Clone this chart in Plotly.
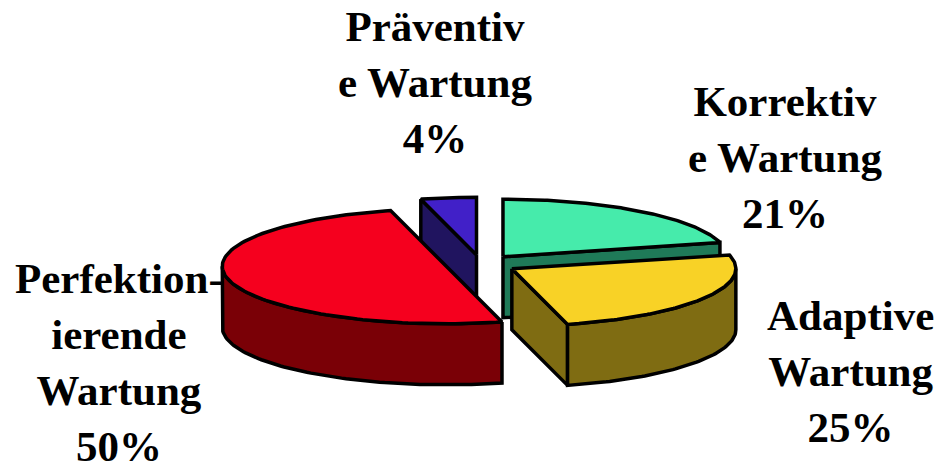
import numpy as np
import plotly.graph_objects as go

# Shares of maintenance effort, clockwise from twelve o'clock
names = ["Korrektiv<br>e Wartung", "Adaptive<br>Wartung", "Perfektion-<br>ierende<br>Wartung", "Präventiv<br>e Wartung"]
values = [21, 25, 50, 4]
top_colors = ["#46EBAB", "#F8D226", "#F5001E", "#4120C8"]
wall_colors = ["#1F7A58", "#7F6C12", "#7A0006", "#20145F"]
label_x = [785, 850, 119, 435]
label_y = [157, 371, 362, 82]

# Projection of the tilted pie onto the page, in page pixels
CX, CY = 481.0, 264.0
RX, RY = 224.0, 57.5
DEPTH = 61.0
EXPLODE = 0.16
LINE = 3.5


def project(theta, r, ox, oy, drop=0.0):
    return (ox + RX * r * np.sin(theta), oy - RY * r * np.cos(theta) + drop)


def add_poly(fig, xs, ys, color):
    fig.add_trace(go.Scatter(
        x=list(xs) + [xs[0]], y=list(ys) + [ys[0]], mode="lines", fill="toself",
        fillcolor=color, line=dict(color="black", width=LINE), hoverinfo="skip", showlegend=False,
    ))


fig = go.Figure()

angles = np.concatenate([[0], np.cumsum(values)]) / sum(values) * 2 * np.pi
slices = [(i, angles[i], angles[i + 1]) for i in range(len(values))]

# Painter's order: back slices first, the large front slice last
for i, a, b in [slices[3], slices[0], slices[1], slices[2]]:
    mid = (a + b) / 2
    ox, oy = project(mid, EXPLODE, CX, CY)

    # Radial cut faces that turn towards the viewer
    for edge, visible in ((a, np.sin(a) < -1e-9), (b, np.sin(b) > 1e-9)):
        if visible:
            ex, ey = project(edge, 1, ox, oy)
            add_poly(fig, [ox, ex, ex, ox], [oy, ey, ey + DEPTH, oy + DEPTH], wall_colors[i])

    # Outer rim on the near half of the ellipse
    lo, hi = max(a, np.pi / 2), min(b, 3 * np.pi / 2)
    if lo < hi:
        t = np.linspace(lo, hi, 80)
        rx, ry = project(t, 1, ox, oy)
        add_poly(fig, np.r_[rx, rx[::-1]], np.r_[ry, ry[::-1] + DEPTH], wall_colors[i])

    # Top face
    t = np.linspace(a, b, 120)
    tx, ty = project(t, 1, ox, oy)
    add_poly(fig, np.r_[ox, tx], np.r_[oy, ty], top_colors[i])

    fig.add_annotation(
        x=label_x[i], y=label_y[i], text=f"{names[i]}<br>{values[i]}%", showarrow=False,
        xanchor="center", yanchor="middle", align="center",
        font=dict(family="Liberation Serif", size=43, color="black", weight="bold"),
    )

fig.update_layout(
    width=940, height=464, margin=dict(l=0, r=0, t=0, b=0, pad=0),
    paper_bgcolor="white", plot_bgcolor="white", showlegend=False,
    xaxis=dict(range=[0, 940], visible=False, fixedrange=True),
    yaxis=dict(range=[464, 0], visible=False, fixedrange=True),
)

fig.write_html("out.html", config={"displayModeBar": False})
